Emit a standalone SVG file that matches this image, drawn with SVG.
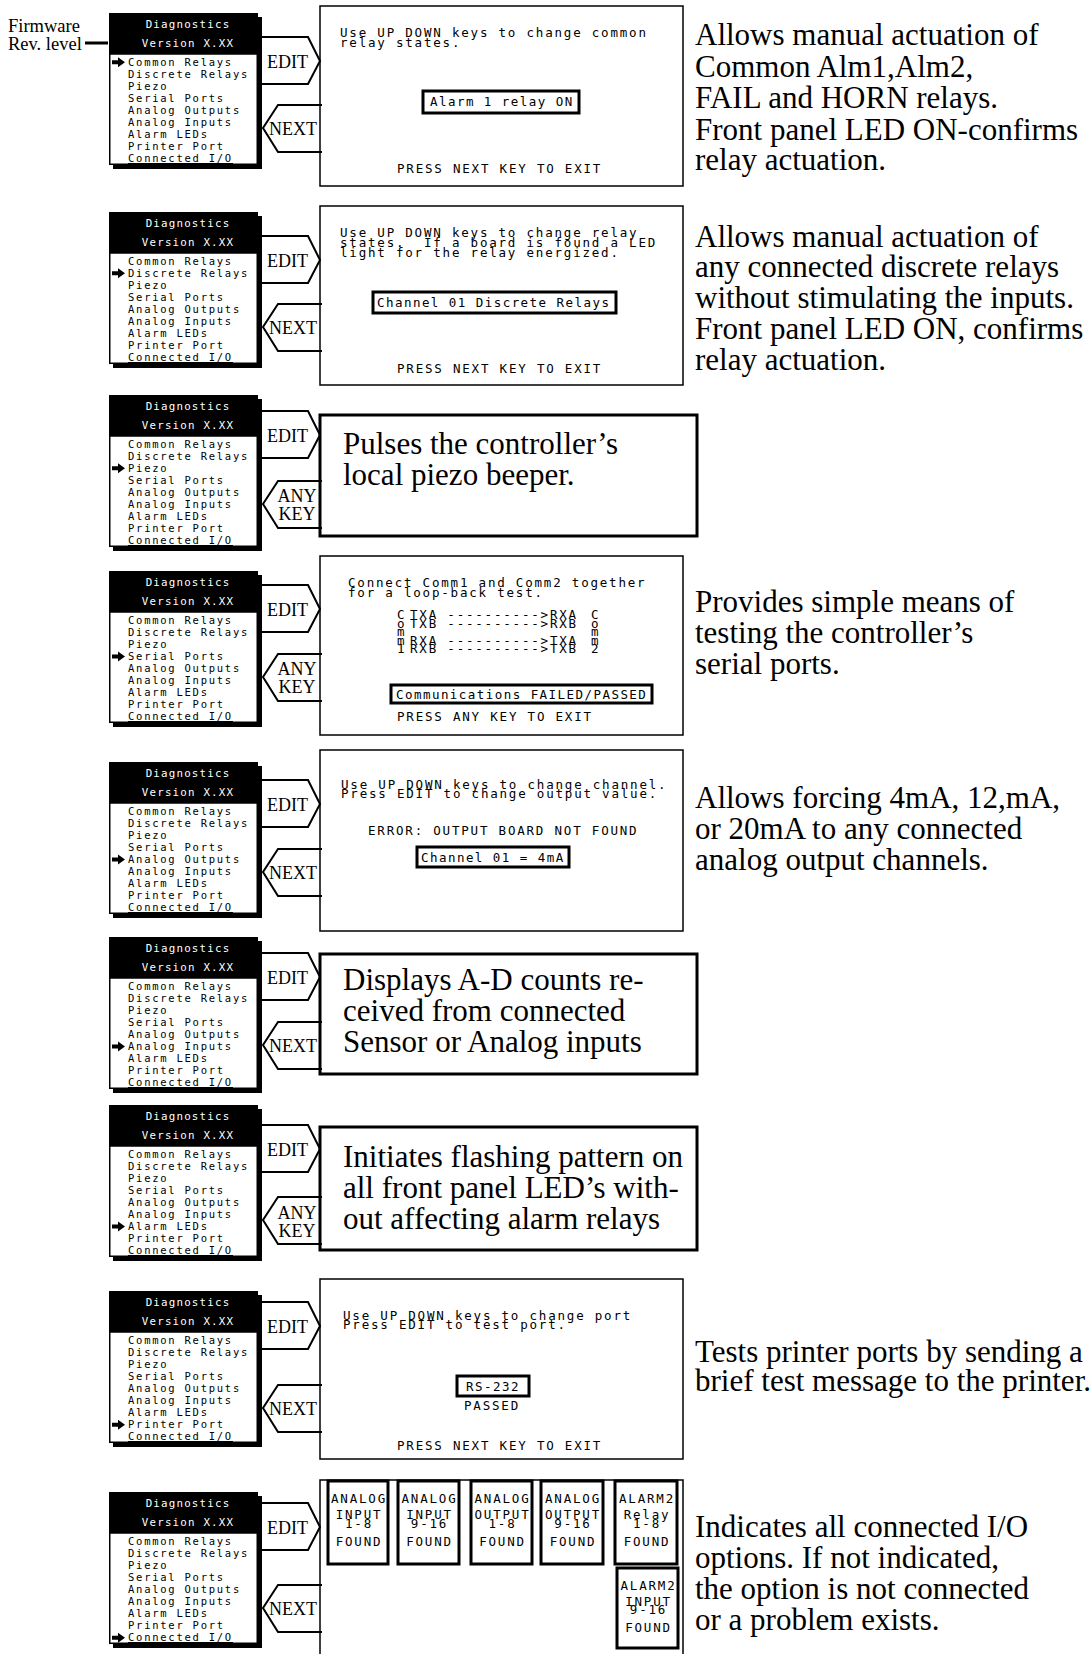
<svg xmlns="http://www.w3.org/2000/svg" xmlns:xlink="http://www.w3.org/1999/xlink" width="1090" height="1654" viewBox="0 0 1090 1654">
<style>
.shd{fill:#000}
.hdr{fill:#000}
.lst{fill:#fff;stroke:#000;stroke-width:1.5}
.mh{font-family:"DejaVu Sans Mono",monospace;font-size:10.8px;letter-spacing:1.2px;fill:#fff;text-anchor:middle}
.mi{font-family:"DejaVu Sans Mono",monospace;font-size:10.5px;letter-spacing:1.75px;fill:#000}
.ul{stroke:#000;stroke-width:1.2}
.scr{fill:#fff;stroke:#000;stroke-width:1.5}
.tbox{fill:#fff;stroke:#000;stroke-width:3}
.ibox{fill:#fff;stroke:#000;stroke-width:3}
.lcd{font-family:"DejaVu Sans Mono",monospace;font-size:12.5px;letter-spacing:1.8px;fill:#000;white-space:pre}
.lcdb{font-family:"DejaVu Sans Mono",monospace;font-size:12.5px;letter-spacing:1.45px;fill:#000;white-space:pre}
.lcdc{font-family:"DejaVu Sans Mono",monospace;font-size:12.5px;letter-spacing:1.8px;fill:#000;text-anchor:middle}
.tm{font-family:"Liberation Serif","Times New Roman",serif;font-size:31px;fill:#000}
.key{font-family:"Liberation Serif","Times New Roman",serif;font-size:18px;fill:#000}
.keyc{font-family:"Liberation Serif","Times New Roman",serif;font-size:18px;fill:#000;text-anchor:middle}
.fw{font-family:"Liberation Serif","Times New Roman",serif;font-size:18.5px;fill:#000}
.conn{fill:none;stroke:#000;stroke-width:2}
</style>
<defs>
<path id="sel" d="M112,-2 H118 V-5 L125,0 L118,5 V2 H112 Z" fill="#000"/>
</defs>
<rect width="1090" height="1654" fill="#fff"/>

<g id="firmware-label">
<text class="fw"><tspan x="8" y="32">Firmware</tspan><tspan x="8" y="50">Rev. level</tspan></text>
<line x1="85" y1="43" x2="108" y2="43" stroke="#000" stroke-width="3"/>
</g>

<!-- Menus -->
<g id="menu1" transform="translate(0,13)">
<rect class="shd" x="113" y="4" width="149" height="152"/><rect class="hdr" x="109" y="0" width="149" height="41"/><rect class="lst" x="109.75" y="41" width="147.5" height="110.25"/>
<text class="mh"><tspan x="188" y="15">Diagnostics</tspan><tspan x="188" y="34">Version X.XX</tspan></text>
<text class="mi"><tspan x="128" y="52.7">Common Relays</tspan><tspan x="128" y="64.8">Discrete Relays</tspan><tspan x="128" y="76.8">Piezo</tspan><tspan x="128" y="88.9">Serial Ports</tspan><tspan x="128" y="101">Analog Outputs</tspan><tspan x="128" y="113">Analog Inputs</tspan><tspan x="128" y="125.1">Alarm LEDs</tspan><tspan x="128" y="137.2">Printer Port</tspan><tspan x="128" y="149.3">Connected I/O</tspan></text>
<line class="ul" x1="128" y1="150.5" x2="233" y2="150.5"/>
<use href="#sel" y="49.2"/>
</g>
<g id="menu2" transform="translate(0,212)">
<rect class="shd" x="113" y="4" width="149" height="152"/><rect class="hdr" x="109" y="0" width="149" height="41"/><rect class="lst" x="109.75" y="41" width="147.5" height="110.25"/>
<text class="mh"><tspan x="188" y="15">Diagnostics</tspan><tspan x="188" y="34">Version X.XX</tspan></text>
<text class="mi"><tspan x="128" y="52.7">Common Relays</tspan><tspan x="128" y="64.8">Discrete Relays</tspan><tspan x="128" y="76.8">Piezo</tspan><tspan x="128" y="88.9">Serial Ports</tspan><tspan x="128" y="101">Analog Outputs</tspan><tspan x="128" y="113">Analog Inputs</tspan><tspan x="128" y="125.1">Alarm LEDs</tspan><tspan x="128" y="137.2">Printer Port</tspan><tspan x="128" y="149.3">Connected I/O</tspan></text>
<line class="ul" x1="128" y1="150.5" x2="233" y2="150.5"/>
<use href="#sel" y="61.3"/>
</g>
<g id="menu3" transform="translate(0,395)">
<rect class="shd" x="113" y="4" width="149" height="152"/><rect class="hdr" x="109" y="0" width="149" height="41"/><rect class="lst" x="109.75" y="41" width="147.5" height="110.25"/>
<text class="mh"><tspan x="188" y="15">Diagnostics</tspan><tspan x="188" y="34">Version X.XX</tspan></text>
<text class="mi"><tspan x="128" y="52.7">Common Relays</tspan><tspan x="128" y="64.8">Discrete Relays</tspan><tspan x="128" y="76.8">Piezo</tspan><tspan x="128" y="88.9">Serial Ports</tspan><tspan x="128" y="101">Analog Outputs</tspan><tspan x="128" y="113">Analog Inputs</tspan><tspan x="128" y="125.1">Alarm LEDs</tspan><tspan x="128" y="137.2">Printer Port</tspan><tspan x="128" y="149.3">Connected I/O</tspan></text>
<line class="ul" x1="128" y1="150.5" x2="233" y2="150.5"/>
<use href="#sel" y="73.3"/>
</g>
<g id="menu4" transform="translate(0,571)">
<rect class="shd" x="113" y="4" width="149" height="152"/><rect class="hdr" x="109" y="0" width="149" height="41"/><rect class="lst" x="109.75" y="41" width="147.5" height="110.25"/>
<text class="mh"><tspan x="188" y="15">Diagnostics</tspan><tspan x="188" y="34">Version X.XX</tspan></text>
<text class="mi"><tspan x="128" y="52.7">Common Relays</tspan><tspan x="128" y="64.8">Discrete Relays</tspan><tspan x="128" y="76.8">Piezo</tspan><tspan x="128" y="88.9">Serial Ports</tspan><tspan x="128" y="101">Analog Outputs</tspan><tspan x="128" y="113">Analog Inputs</tspan><tspan x="128" y="125.1">Alarm LEDs</tspan><tspan x="128" y="137.2">Printer Port</tspan><tspan x="128" y="149.3">Connected I/O</tspan></text>
<line class="ul" x1="128" y1="150.5" x2="233" y2="150.5"/>
<use href="#sel" y="85.4"/>
</g>
<g id="menu5" transform="translate(0,762)">
<rect class="shd" x="113" y="4" width="149" height="152"/><rect class="hdr" x="109" y="0" width="149" height="41"/><rect class="lst" x="109.75" y="41" width="147.5" height="110.25"/>
<text class="mh"><tspan x="188" y="15">Diagnostics</tspan><tspan x="188" y="34">Version X.XX</tspan></text>
<text class="mi"><tspan x="128" y="52.7">Common Relays</tspan><tspan x="128" y="64.8">Discrete Relays</tspan><tspan x="128" y="76.8">Piezo</tspan><tspan x="128" y="88.9">Serial Ports</tspan><tspan x="128" y="101">Analog Outputs</tspan><tspan x="128" y="113">Analog Inputs</tspan><tspan x="128" y="125.1">Alarm LEDs</tspan><tspan x="128" y="137.2">Printer Port</tspan><tspan x="128" y="149.3">Connected I/O</tspan></text>
<line class="ul" x1="128" y1="150.5" x2="233" y2="150.5"/>
<use href="#sel" y="97.5"/>
</g>
<g id="menu6" transform="translate(0,937)">
<rect class="shd" x="113" y="4" width="149" height="152"/><rect class="hdr" x="109" y="0" width="149" height="41"/><rect class="lst" x="109.75" y="41" width="147.5" height="110.25"/>
<text class="mh"><tspan x="188" y="15">Diagnostics</tspan><tspan x="188" y="34">Version X.XX</tspan></text>
<text class="mi"><tspan x="128" y="52.7">Common Relays</tspan><tspan x="128" y="64.8">Discrete Relays</tspan><tspan x="128" y="76.8">Piezo</tspan><tspan x="128" y="88.9">Serial Ports</tspan><tspan x="128" y="101">Analog Outputs</tspan><tspan x="128" y="113">Analog Inputs</tspan><tspan x="128" y="125.1">Alarm LEDs</tspan><tspan x="128" y="137.2">Printer Port</tspan><tspan x="128" y="149.3">Connected I/O</tspan></text>
<line class="ul" x1="128" y1="150.5" x2="233" y2="150.5"/>
<use href="#sel" y="109.5"/>
</g>
<g id="menu7" transform="translate(0,1105)">
<rect class="shd" x="113" y="4" width="149" height="152"/><rect class="hdr" x="109" y="0" width="149" height="41"/><rect class="lst" x="109.75" y="41" width="147.5" height="110.25"/>
<text class="mh"><tspan x="188" y="15">Diagnostics</tspan><tspan x="188" y="34">Version X.XX</tspan></text>
<text class="mi"><tspan x="128" y="52.7">Common Relays</tspan><tspan x="128" y="64.8">Discrete Relays</tspan><tspan x="128" y="76.8">Piezo</tspan><tspan x="128" y="88.9">Serial Ports</tspan><tspan x="128" y="101">Analog Outputs</tspan><tspan x="128" y="113">Analog Inputs</tspan><tspan x="128" y="125.1">Alarm LEDs</tspan><tspan x="128" y="137.2">Printer Port</tspan><tspan x="128" y="149.3">Connected I/O</tspan></text>
<line class="ul" x1="128" y1="150.5" x2="233" y2="150.5"/>
<use href="#sel" y="121.6"/>
</g>
<g id="menu8" transform="translate(0,1291)">
<rect class="shd" x="113" y="4" width="149" height="152"/><rect class="hdr" x="109" y="0" width="149" height="41"/><rect class="lst" x="109.75" y="41" width="147.5" height="110.25"/>
<text class="mh"><tspan x="188" y="15">Diagnostics</tspan><tspan x="188" y="34">Version X.XX</tspan></text>
<text class="mi"><tspan x="128" y="52.7">Common Relays</tspan><tspan x="128" y="64.8">Discrete Relays</tspan><tspan x="128" y="76.8">Piezo</tspan><tspan x="128" y="88.9">Serial Ports</tspan><tspan x="128" y="101">Analog Outputs</tspan><tspan x="128" y="113">Analog Inputs</tspan><tspan x="128" y="125.1">Alarm LEDs</tspan><tspan x="128" y="137.2">Printer Port</tspan><tspan x="128" y="149.3">Connected I/O</tspan></text>
<line class="ul" x1="128" y1="150.5" x2="233" y2="150.5"/>
<use href="#sel" y="133.7"/>
</g>
<g id="menu9" transform="translate(0,1492)">
<rect class="shd" x="113" y="4" width="149" height="152"/><rect class="hdr" x="109" y="0" width="149" height="41"/><rect class="lst" x="109.75" y="41" width="147.5" height="110.25"/>
<text class="mh"><tspan x="188" y="15">Diagnostics</tspan><tspan x="188" y="34">Version X.XX</tspan></text>
<text class="mi"><tspan x="128" y="52.7">Common Relays</tspan><tspan x="128" y="64.8">Discrete Relays</tspan><tspan x="128" y="76.8">Piezo</tspan><tspan x="128" y="88.9">Serial Ports</tspan><tspan x="128" y="101">Analog Outputs</tspan><tspan x="128" y="113">Analog Inputs</tspan><tspan x="128" y="125.1">Alarm LEDs</tspan><tspan x="128" y="137.2">Printer Port</tspan><tspan x="128" y="149.3">Connected I/O</tspan></text>
<line class="ul" x1="128" y1="150.5" x2="233" y2="150.5"/>
<use href="#sel" y="145.8"/>
</g>

<!-- Panels -->
<g id="panel1">
<rect class="scr" x="320" y="6" width="363" height="180"/>
<text class="lcd"><tspan x="340" y="37">Use UP DOWN keys to change common</tspan><tspan x="340" y="47">relay states.</tspan></text>
<rect class="ibox" x="423" y="91" width="156" height="22"/>
<text class="lcdb" x="430" y="106">Alarm 1 relay ON</text>
<text class="lcd" x="397" y="173">PRESS NEXT KEY TO EXIT</text>
</g>
<g id="panel2">
<rect class="scr" x="320" y="206" width="363" height="179"/>
<text class="lcd" xml:space="preserve"><tspan x="340" y="237">Use UP DOWN keys to change relay</tspan><tspan x="340" y="247">states.  If a board is found a LED</tspan><tspan x="340" y="257">light for the relay energized.</tspan></text>
<rect class="ibox" x="373" y="292" width="243" height="21"/>
<text class="lcdb" x="377" y="307">Channel 01 Discrete Relays</text>
<text class="lcd" x="397" y="373">PRESS NEXT KEY TO EXIT</text>
</g>
<g id="panel3">
<rect class="tbox" x="320" y="415" width="377" height="121"/>
<text class="tm"><tspan x="343" y="454">Pulses the controller’s</tspan><tspan x="343" y="485">local piezo beeper.</tspan></text>
</g>
<g id="panel4">
<rect class="scr" x="320" y="556" width="363" height="179"/>
<text class="lcd"><tspan x="348" y="587">Connect Comm1 and Comm2 together</tspan><tspan x="348" y="597">for a loop-back test.</tspan></text>
<text class="lcd"><tspan x="397" y="619">C</tspan><tspan x="410" y="619">TXA ----------&gt;RXA</tspan><tspan x="591" y="619">C</tspan><tspan x="397" y="628">o</tspan><tspan x="410" y="628">TXB ----------&gt;RXB</tspan><tspan x="591" y="628">o</tspan><tspan x="397" y="636">m</tspan><tspan x="591" y="636">m</tspan><tspan x="397" y="645">m</tspan><tspan x="410" y="645">RXA ----------&gt;TXA</tspan><tspan x="591" y="645">m</tspan><tspan x="397" y="653">1</tspan><tspan x="410" y="653">RXB ----------&gt;TXB</tspan><tspan x="591" y="653">2</tspan></text>
<rect class="ibox" x="391" y="685" width="261" height="18"/>
<text class="lcdb" x="396" y="699">Communications FAILED/PASSED</text>
<text class="lcd" x="397" y="721">PRESS ANY KEY TO EXIT</text>
</g>
<g id="panel5">
<rect class="scr" x="320" y="750" width="363" height="181"/>
<text class="lcd"><tspan x="341" y="789">Use UP DOWN keys to change channel.</tspan><tspan x="341" y="798">Press EDIT to change output value.</tspan></text>
<text class="lcd" x="368" y="835">ERROR: OUTPUT BOARD NOT FOUND</text>
<rect class="ibox" x="417" y="847" width="152" height="20"/>
<text class="lcdb" x="421" y="862">Channel 01 = 4mA</text>
</g>
<g id="panel6">
<rect class="tbox" x="320" y="954" width="377" height="120"/>
<text class="tm"><tspan x="343" y="990">Displays A-D counts re-</tspan><tspan x="343" y="1021">ceived from connected</tspan><tspan x="343" y="1052">Sensor or Analog inputs</tspan></text>
</g>
<g id="panel7">
<rect class="tbox" x="320" y="1127" width="377" height="123"/>
<text class="tm"><tspan x="343" y="1167">Initiates flashing pattern on</tspan><tspan x="343" y="1198">all front panel LED’s with-</tspan><tspan x="343" y="1229">out affecting alarm relays</tspan></text>
</g>
<g id="panel8">
<rect class="scr" x="320" y="1279" width="363" height="180"/>
<text class="lcd"><tspan x="343" y="1320">Use UP DOWN keys to change port</tspan><tspan x="343" y="1329">Press EDIT to test port.</tspan></text>
<rect class="ibox" x="457" y="1376" width="72" height="20"/>
<text class="lcdb" x="466" y="1391">RS-232</text>
<text class="lcd" x="464" y="1410">PASSED</text>
<text class="lcd" x="397" y="1450">PRESS NEXT KEY TO EXIT</text>
</g>
<g id="panel9">
<rect class="scr" x="320" y="1480" width="363" height="190"/>
<rect class="ibox" x="328" y="1481" width="60" height="83"/>
<text class="lcdc"><tspan x="359" y="1503">ANALOG</tspan><tspan x="359" y="1519">INPUT</tspan><tspan x="359" y="1528">1-8</tspan><tspan x="359" y="1546">FOUND</tspan></text>
<rect class="ibox" x="398" y="1481" width="61" height="83"/>
<text class="lcdc"><tspan x="429.5" y="1503">ANALOG</tspan><tspan x="429.5" y="1519">INPUT</tspan><tspan x="429.5" y="1528">9-16</tspan><tspan x="429.5" y="1546">FOUND</tspan></text>
<rect class="ibox" x="471" y="1481" width="61" height="83"/>
<text class="lcdc"><tspan x="502.5" y="1503">ANALOG</tspan><tspan x="502.5" y="1519">OUTPUT</tspan><tspan x="502.5" y="1528">1-8</tspan><tspan x="502.5" y="1546">FOUND</tspan></text>
<rect class="ibox" x="541" y="1481" width="62" height="83"/>
<text class="lcdc"><tspan x="573" y="1503">ANALOG</tspan><tspan x="573" y="1519">OUTPUT</tspan><tspan x="573" y="1528">9-16</tspan><tspan x="573" y="1546">FOUND</tspan></text>
<rect class="ibox" x="615" y="1481" width="62" height="83"/>
<text class="lcdc"><tspan x="647" y="1503">ALARM2</tspan><tspan x="647" y="1519">Relay</tspan><tspan x="647" y="1528">1-8</tspan><tspan x="647" y="1546">FOUND</tspan></text>
<rect class="ibox" x="617" y="1568" width="61" height="80"/>
<text class="lcdc"><tspan x="648.5" y="1590">ALARM2</tspan><tspan x="648.5" y="1606">INPUT</tspan><tspan x="648.5" y="1614">9-16</tspan><tspan x="648.5" y="1632">FOUND</tspan></text>
</g>

<!-- Descriptions -->
<g id="desc1">
<text class="tm"><tspan x="695" y="45">Allows manual actuation of</tspan><tspan x="695" y="77">Common Alm1,Alm2,</tspan><tspan x="695" y="108">FAIL and HORN relays.</tspan><tspan x="695" y="140">Front panel LED ON-confirms</tspan><tspan x="695" y="170">relay actuation.</tspan></text>
</g>
<g id="desc2">
<text class="tm"><tspan x="695" y="247">Allows manual actuation of</tspan><tspan x="695" y="277">any connected discrete relays</tspan><tspan x="695" y="308">without stimulating the inputs.</tspan><tspan x="695" y="339">Front panel LED ON, confirms</tspan><tspan x="695" y="370">relay actuation.</tspan></text>
</g>
<g id="desc4">
<text class="tm"><tspan x="695" y="612">Provides simple means of</tspan><tspan x="695" y="643">testing the controller’s</tspan><tspan x="695" y="674">serial ports.</tspan></text>
</g>
<g id="desc5">
<text class="tm"><tspan x="695" y="808">Allows forcing 4mA, 12,mA,</tspan><tspan x="695" y="839">or 20mA to any connected</tspan><tspan x="695" y="870">analog output channels.</tspan></text>
</g>
<g id="desc8">
<text class="tm"><tspan x="695" y="1362">Tests printer ports by sending a</tspan><tspan x="695" y="1391">brief test message to the printer.</tspan></text>
</g>
<g id="desc9">
<text class="tm"><tspan x="695" y="1537">Indicates all connected I/O</tspan><tspan x="695" y="1568">options. If not indicated,</tspan><tspan x="695" y="1599">the option is not connected</tspan><tspan x="695" y="1630">or a problem exists.</tspan></text>
</g>

<!-- Connectors: EDIT / NEXT / ANY KEY -->
<g id="connectors">
<polyline class="conn" points="258,37 308,37 320,61 308,84 258,84"/>
<text class="key" x="267" y="68">EDIT</text>
<polyline class="conn" points="322,105 278,105 263,128 278,152 322,152"/>
<text class="key" x="269" y="135">NEXT</text>

<polyline class="conn" points="258,236 308,236 320,260 308,283 258,283"/>
<text class="key" x="267" y="267">EDIT</text>
<polyline class="conn" points="322,304 278,304 263,327 278,351 322,351"/>
<text class="key" x="269" y="334">NEXT</text>

<polyline class="conn" points="258,411 308,411 320,435 308,458 258,458"/>
<text class="key" x="267" y="442">EDIT</text>
<polyline class="conn" points="322,481 278,481 263,504 278,528 322,528"/>
<text class="keyc"><tspan x="297" y="502">ANY</tspan><tspan x="297" y="520">KEY</tspan></text>

<polyline class="conn" points="258,585 308,585 320,609 308,632 258,632"/>
<text class="key" x="267" y="616">EDIT</text>
<polyline class="conn" points="322,654 278,654 263,677 278,701 322,701"/>
<text class="keyc"><tspan x="297" y="675">ANY</tspan><tspan x="297" y="693">KEY</tspan></text>

<polyline class="conn" points="258,780 308,780 320,804 308,827 258,827"/>
<text class="key" x="267" y="811">EDIT</text>
<polyline class="conn" points="322,849 278,849 263,872 278,896 322,896"/>
<text class="key" x="269" y="879">NEXT</text>

<polyline class="conn" points="258,953 308,953 320,977 308,1000 258,1000"/>
<text class="key" x="267" y="984">EDIT</text>
<polyline class="conn" points="322,1022 278,1022 263,1045 278,1069 322,1069"/>
<text class="key" x="269" y="1052">NEXT</text>

<polyline class="conn" points="258,1125 308,1125 320,1149 308,1172 258,1172"/>
<text class="key" x="267" y="1156">EDIT</text>
<polyline class="conn" points="322,1197 278,1197 263,1220 278,1244 322,1244"/>
<text class="keyc"><tspan x="297" y="1219">ANY</tspan><tspan x="297" y="1237">KEY</tspan></text>

<polyline class="conn" points="258,1302 308,1302 320,1326 308,1349 258,1349"/>
<text class="key" x="267" y="1333">EDIT</text>
<polyline class="conn" points="322,1385 278,1385 263,1408 278,1432 322,1432"/>
<text class="key" x="269" y="1415">NEXT</text>

<polyline class="conn" points="258,1503 308,1503 320,1527 308,1550 258,1550"/>
<text class="key" x="267" y="1534">EDIT</text>
<polyline class="conn" points="322,1585 278,1585 263,1608 278,1632 322,1632"/>
<text class="key" x="269" y="1615">NEXT</text>
</g>
</svg>
